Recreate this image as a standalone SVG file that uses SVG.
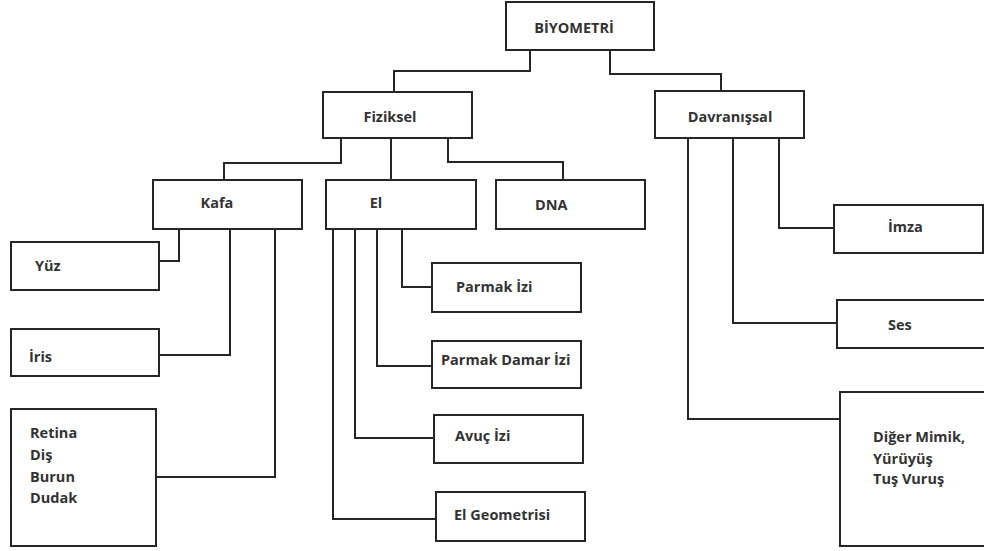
<svg xmlns="http://www.w3.org/2000/svg" width="984" height="551" viewBox="0 0 984 551">
  <style>
    .box { fill: #ffffff; stroke: #262626; stroke-width: 2; }
    .lbl { font-family: "Open Sans", "Liberation Sans", sans-serif; font-weight: 700; font-size: 14.5px; fill: #333333; }
    .wire { fill: none; stroke: #262626; stroke-width: 2; }
  </style>
  <rect width="984" height="551" fill="#ffffff"/>

  <!-- connectors -->
  <g id="connectors" class="wire">
    <polyline points="530,50 530,71 394,71 394,92"/>
    <polyline points="610,50 610,74 721,74 721,92"/>
    <polyline points="341,138 341,163 224,163 224,180"/>
    <polyline points="391,138 391,180"/>
    <polyline points="448,138 448,162 563,162 563,180"/>
    <polyline points="179,229 179,261 159,261"/>
    <polyline points="230,229 230,355 159,355"/>
    <polyline points="275,229 275,477 156,477"/>
    <polyline points="402,229 402,287 432,287"/>
    <polyline points="377,229 377,366 432,366"/>
    <polyline points="355,229 355,438 434,438"/>
    <polyline points="333,229 333,519 436,519"/>
    <polyline points="779,138 779,228 834,228"/>
    <polyline points="733,138 733,323 837,323"/>
    <polyline points="688,138 688,419 840,419"/>
  </g>

  <g id="biyometri">
    <rect class="box" x="506" y="2" width="148" height="48"/>
    <text class="lbl" x="574" y="33" text-anchor="middle">BİYOMETRİ</text>
  </g>
  <g id="fiziksel">
    <rect class="box" x="323" y="92" width="149" height="46"/>
    <text class="lbl" x="390" y="122" text-anchor="middle">Fiziksel</text>
  </g>
  <g id="davranissal">
    <rect class="box" x="655" y="91" width="149" height="47"/>
    <text class="lbl" x="730" y="122" text-anchor="middle">Davranışsal</text>
  </g>
  <g id="kafa">
    <rect class="box" x="153" y="180" width="149" height="49"/>
    <text class="lbl" x="217" y="208" text-anchor="middle">Kafa</text>
  </g>
  <g id="el">
    <rect class="box" x="326" y="180" width="150" height="49"/>
    <text class="lbl" x="376" y="208" text-anchor="middle">El</text>
  </g>
  <g id="dna">
    <rect class="box" x="496" y="180" width="149" height="49"/>
    <text class="lbl" x="535" y="210">DNA</text>
  </g>
  <g id="yuz">
    <rect class="box" x="11" y="242" width="148" height="48"/>
    <text class="lbl" x="35" y="271">Yüz</text>
  </g>
  <g id="iris">
    <rect class="box" x="11" y="329" width="148" height="47"/>
    <text class="lbl" x="29" y="362">İris</text>
  </g>
  <g id="retina">
    <rect class="box" x="11" y="409" width="145" height="137"/>
    <text class="lbl" x="30" y="438">Retina</text>
    <text class="lbl" x="30" y="460">Diş</text>
    <text class="lbl" x="30" y="482">Burun</text>
    <text class="lbl" x="30" y="503">Dudak</text>
  </g>
  <g id="parmak-izi">
    <rect class="box" x="432" y="263" width="149" height="49"/>
    <text class="lbl" x="456" y="292">Parmak İzi</text>
  </g>
  <g id="parmak-damar-izi">
    <rect class="box" x="432" y="341" width="149" height="47"/>
    <text class="lbl" x="441" y="365">Parmak Damar İzi</text>
  </g>
  <g id="avuc-izi">
    <rect class="box" x="434" y="415" width="149" height="48"/>
    <text class="lbl" x="455" y="441">Avuç İzi</text>
  </g>
  <g id="el-geometrisi">
    <rect class="box" x="436" y="492" width="149" height="49"/>
    <text class="lbl" x="454" y="520">El Geometrisi</text>
  </g>
  <g id="imza">
    <rect class="box" x="834" y="205" width="149" height="48"/>
    <text class="lbl" x="888" y="232">İmza</text>
  </g>
  <g id="ses">
    <rect class="box" x="837" y="300" width="150" height="48"/>
    <text class="lbl" x="888" y="330">Ses</text>
  </g>
  <g id="diger">
    <rect class="box" x="840" y="392" width="150" height="154"/>
    <text class="lbl" x="873" y="442">Diğer Mimik,</text>
    <text class="lbl" x="873" y="464">Yürüyüş</text>
    <text class="lbl" x="873" y="484">Tuş Vuruş</text>
  </g>
</svg>
